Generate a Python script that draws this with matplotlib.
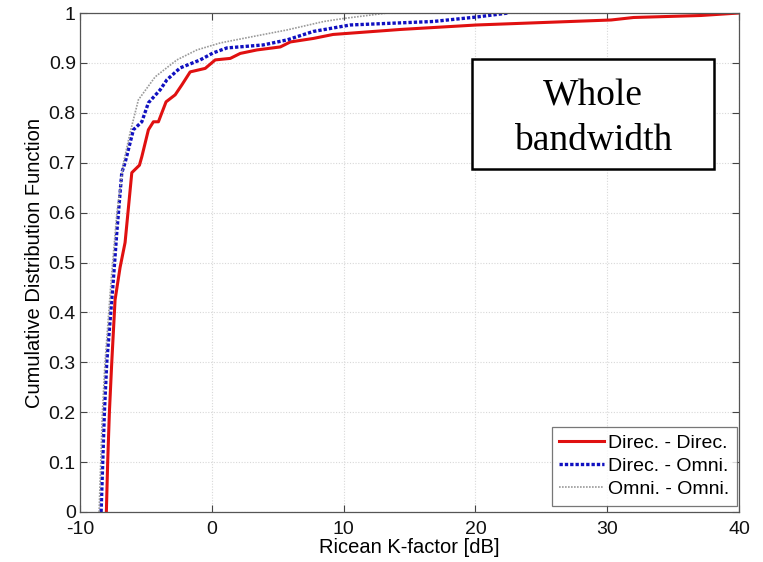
import matplotlib
matplotlib.use("Agg")
import matplotlib.pyplot as plt
from matplotlib.patches import Rectangle

# Direc. - Direc.
dd_x = [-8.0, -7.9, -7.77, -7.59, -7.34, -6.96, -6.58, -6.07, -5.49, -5.31, -4.81, -4.43, -4.05,
        -3.79, -3.47, -2.78, -2.27, -1.64, -0.5, 0.26, 1.4, 2.16, 3.43, 5.2, 5.96, 7.7, 9.2,
        14.3, 20.1, 30.3, 32.0, 37.1, 40.0]
dd_y = [0.0, 0.1, 0.2, 0.3, 0.425, 0.49, 0.54, 0.68, 0.695, 0.712, 0.766, 0.782, 0.782,
        0.80, 0.822, 0.836, 0.856, 0.882, 0.889, 0.906, 0.909, 0.919, 0.926, 0.932, 0.942, 0.949, 0.957,
        0.967, 0.976, 0.986, 0.991, 0.995, 1.0]
# Direc. - Omni.
do_x = [-8.4, -8.15, -7.97, -7.47, -7.21, -6.83, -6.58, -5.95, -5.31, -4.81, -3.92, -3.41, -2.4,
        -0.88, 0.1, 1.15, 3.9, 5.7, 7.7, 10.5, 16.8, 20.1, 22.5]
do_y = [0.0, 0.2, 0.3, 0.465, 0.56, 0.68, 0.70, 0.766, 0.782, 0.82, 0.846, 0.866, 0.89,
        0.906, 0.92, 0.93, 0.936, 0.946, 0.963, 0.976, 0.983, 0.992, 1.0]
# Omni. - Omni.
oo_x = [-8.55, -8.3, -8.1, -7.65, -7.2, -6.7, -6.2, -5.57, -4.3, -2.65, -1.13, 0.64, 3.15, 5.7,
        8.5, 10.0, 13.3]
oo_y = [0.0, 0.2, 0.3, 0.46, 0.6, 0.7, 0.76, 0.826, 0.872, 0.906, 0.926, 0.94, 0.953, 0.966,
        0.983, 0.989, 1.0]

x_ticks = [-10, 0, 10, 20, 30, 40]
y_ticks = [0, 0.1, 0.2, 0.3, 0.4, 0.5, 0.6, 0.7, 0.8, 0.9, 1]
y_ticklabels = ["0", "0.1", "0.2", "0.3", "0.4", "0.5", "0.6", "0.7", "0.8", "0.9", "1"]

plt.rcParams['font.family'] = ['Liberation Sans', 'DejaVu Sans']
plt.rcParams['axes.unicode_minus'] = False

W, H = 763, 562
fig = plt.figure(figsize=(W / 100, H / 100), dpi=100)
ax = fig.add_axes([80/W, 1 - 512/H, (739 - 80)/W, (512 - 13)/H])

ax.plot(dd_x, dd_y, color='#e01010', lw=2.2, label='Direc. - Direc.')
ax.plot(do_x, do_y, color='#1010c0', lw=2.4, linestyle=(0, (1, 0.6)), label='Direc. - Omni.')
ax.plot(oo_x, oo_y, color='#9a9a9a', lw=1.2, linestyle=(0, (1, 0.8)), label='Omni. - Omni.')

ax.set_xlim(-10, 40)
ax.set_ylim(0, 1)
ax.set_xticks(x_ticks)
ax.set_yticks(y_ticks)
ax.set_yticklabels(y_ticklabels)
ax.tick_params(direction='in', top=True, right=True, labelsize=14, colors='#444444',
               length=5, width=0.8, labelcolor='#111111')
ax.tick_params(axis='y', pad=3)
ax.tick_params(axis='x', pad=6.5)
ax.grid(True, color='#d8d8d8', linestyle=(0, (1, 1.5)), linewidth=0.8)
for s in ax.spines.values():
    s.set_color('#555555')
    s.set_linewidth(0.9)

ax.set_xlabel('Ricean K-factor [dB]', fontsize=14.5, labelpad=0)
ax.set_ylabel('Cumulative Distribution Function', fontsize=14.5, labelpad=3)

leg = ax.legend(loc='lower right', bbox_to_anchor=(737/W, 1 - 506/H),
                bbox_transform=fig.transFigure, fontsize=14, frameon=True, fancybox=False,
                handlelength=2.3, handletextpad=0.2, borderpad=0.4, labelspacing=0.28,
                borderaxespad=0)
leg.get_frame().set_edgecolor('#555555')
leg.get_frame().set_linewidth(0.9)

box = Rectangle((472/W, 1 - 169/H), (714 - 472)/W, (169 - 59)/H, transform=fig.transFigure,
                facecolor='white', edgecolor='black', linewidth=1.8, zorder=5)
fig.patches.append(box)
fig.text(593/W, 1 - 105/H, 'Whole', ha='center', va='baseline', fontsize=27,
         family='Liberation Serif', zorder=6)
fig.text(593/W, 1 - 150/H, 'bandwidth', ha='center', va='baseline', fontsize=27,
         family='Liberation Serif', zorder=6)

fig.savefig('out.png', dpi=100)
